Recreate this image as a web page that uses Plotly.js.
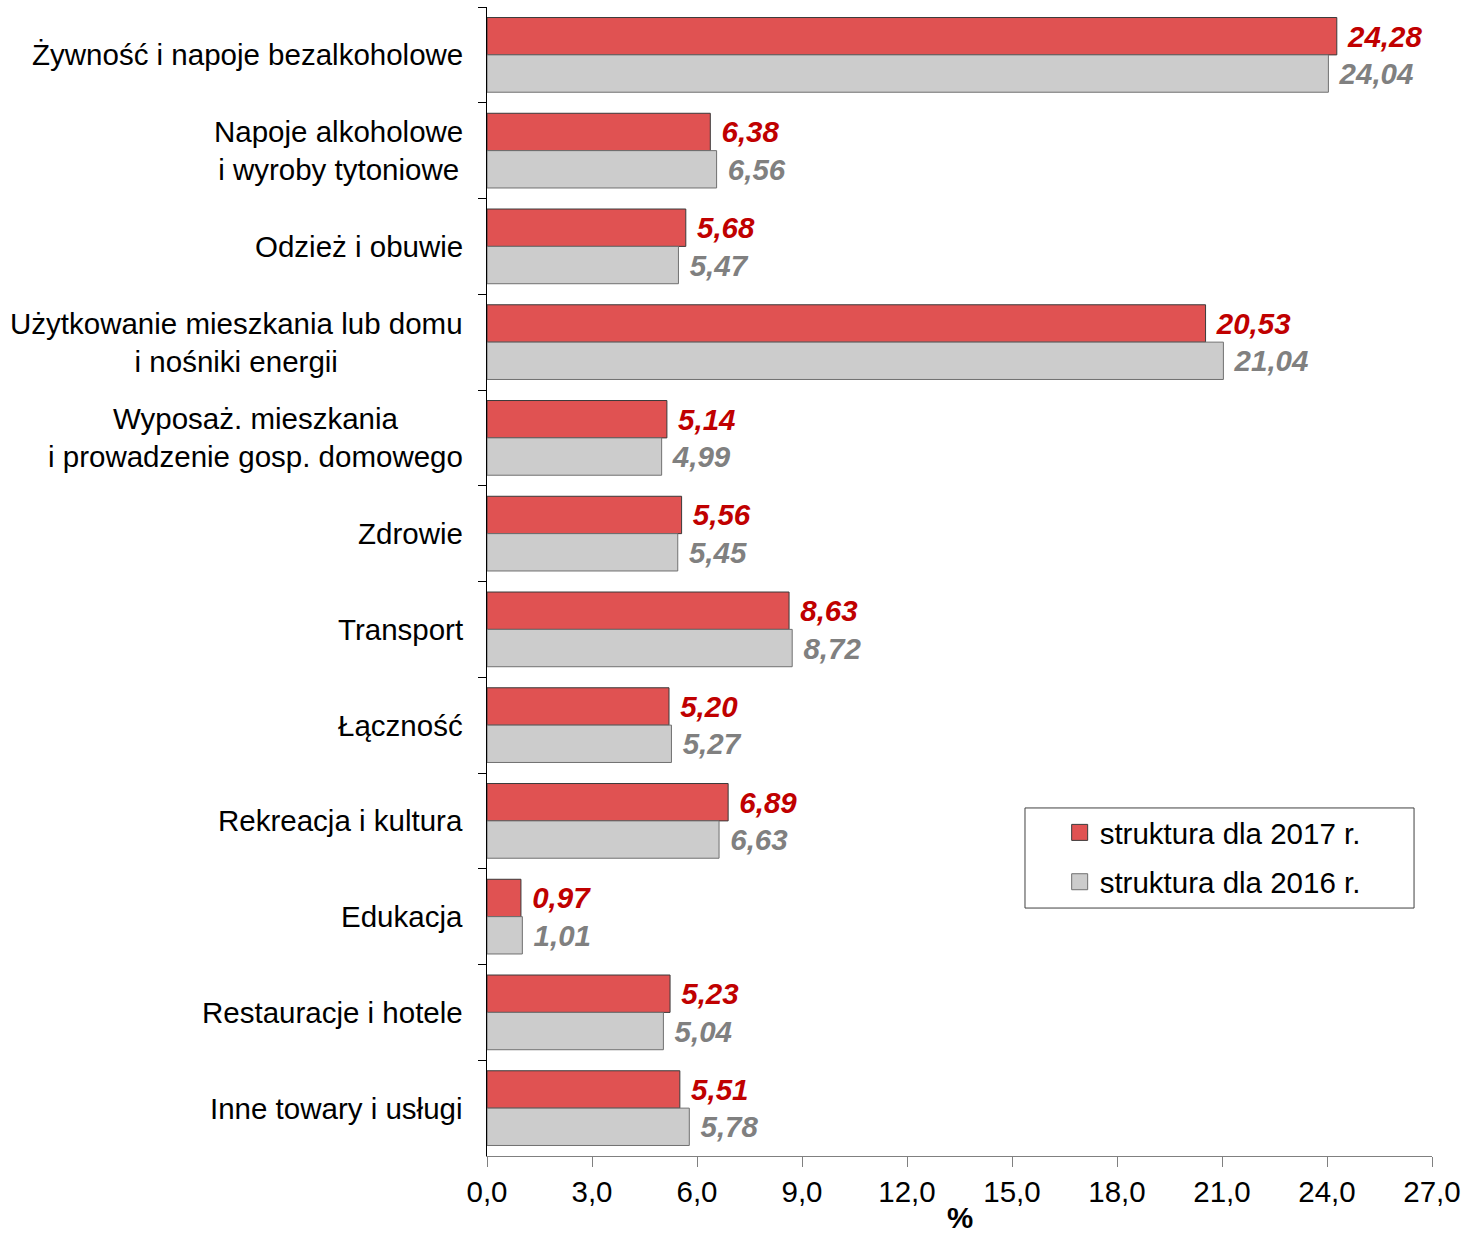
<!DOCTYPE html>
<html>
<head>
<meta charset="utf-8">
<script src="https://cdn.plot.ly/plotly-3.0.1.min.js"></script>
<style>html,body{margin:0;padding:0;background:#fff}#chart{width:1470px;height:1233px}</style>
</head>
<body>
<div id="chart"></div>
<script>
const categories = [
  "Żywność i napoje bezalkoholowe",
  "Napoje alkoholowe<br>i wyroby tytoniowe",
  "Odzież i obuwie",
  "Użytkowanie mieszkania lub domu<br>i nośniki energii",
  "Wyposaż. mieszkania<br>i prowadzenie gosp. domowego",
  "Zdrowie",
  "Transport",
  "Łączność",
  "Rekreacja i kultura",
  "Edukacja",
  "Restauracje i hotele",
  "Inne towary i usługi"
];
const values2017 = [24.28, 6.38, 5.68, 20.53, 5.14, 5.56, 8.63, 5.20, 6.89, 0.97, 5.23, 5.51];
const values2016 = [24.04, 6.56, 5.47, 21.04, 4.99, 5.45, 8.72, 5.27, 6.63, 1.01, 5.04, 5.78];
const seriesNames = ["struktura dla 2017 r.", "struktura dla 2016 r."];
const xTicks = [0, 3, 6, 9, 12, 15, 18, 21, 24, 27];
const xAxisTitle = "%";

const FONT = "Liberation Sans, Arial, sans-serif";
const FS = 29.5;
const fmt = v => '\u00A0' + v.toFixed(2).replace('.', ',');

const colors = {red: '#E05252', redLine: '#3a3a3a', grey: '#CCCCCC', greyLine: '#707070'};

const traces = [
  {
    type: 'bar', orientation: 'h', name: seriesNames[0], showlegend: false,
    y: categories, x: values2017,
    marker: {color: colors.red, line: {color: colors.redLine, width: 1}},
    text: values2017.map(fmt), textposition: 'outside', cliponaxis: false,
    textfont: {family: FONT, size: FS, color: '#C00000', weight: 'bold', style: 'italic'},
    hoverinfo: 'x'
  },
  {
    type: 'bar', orientation: 'h', name: seriesNames[1], showlegend: false,
    y: categories, x: values2016,
    marker: {color: colors.grey, line: {color: colors.greyLine, width: 1}},
    text: values2016.map(fmt), textposition: 'outside', cliponaxis: false,
    textfont: {family: FONT, size: FS, color: '#808080', weight: 'bold', style: 'italic'},
    hoverinfo: 'x'
  },
  {
    type: 'scatter', mode: 'markers', name: seriesNames[0], legendgroup: 'g1', x: [null], y: [null],
    marker: {symbol: 'square', size: 16, color: colors.red, line: {color: colors.redLine, width: 1}},
    showlegend: true, hoverinfo: 'skip'
  },
  {
    type: 'scatter', mode: 'markers', name: seriesNames[1], legendgroup: 'g2', x: [null], y: [null],
    marker: {symbol: 'square', size: 16, color: colors.grey, line: {color: colors.greyLine, width: 1}},
    showlegend: true, hoverinfo: 'skip'
  }
];

const annotations = categories.map(c => ({
  xref: 'paper', yref: 'y', x: 0, y: c, xanchor: 'right', yanchor: 'middle',
  xshift: -22, text: c, showarrow: false, align: 'center',
  font: {family: FONT, size: FS, color: '#000'}
}));
annotations.push({
  xref: 'paper', yref: 'paper', x: 0.5, y: 0, xanchor: 'center', yanchor: 'middle',
  yshift: -61, borderpad: 0, text: '<b>' + xAxisTitle + '</b>', showarrow: false,
  font: {family: FONT, size: FS, color: '#000'}
});

const layout = {
  width: 1470, height: 1233,
  margin: {l: 487, r: 38, t: 7, b: 77},
  paper_bgcolor: '#fff', plot_bgcolor: '#fff',
  separators: ',.',
  font: {family: FONT, size: FS, color: '#000'},
  barmode: 'group', bargap: 0.22, bargroupgap: 0,
  showlegend: true,
  legend: {
    x: 0.606, y: 0.304, xanchor: 'left', yanchor: 'top',
    bgcolor: 'rgba(0,0,0,0)', borderwidth: 0,
    font: {family: FONT, size: FS, color: '#000'},
    traceorder: 'grouped', itemsizing: 'trace', tracegroupgap: 8
  },
  shapes: [{
    type: 'rect', xref: 'paper', yref: 'paper',
    x0: 0.5693, x1: 0.981, y0: 0.2158, y1: 0.3029,
    line: {color: '#404040', width: 1}, fillcolor: '#fff', layer: 'below'
  }],
  xaxis: {
    range: [0, 27], tickvals: xTicks, tickformat: '.1f',
    showgrid: false, zeroline: false,
    showline: true, linecolor: '#808080', linewidth: 1,
    ticks: 'outside', ticklen: 10, tickcolor: '#808080',
    tickfont: {family: FONT, size: FS, color: '#000'}
  },
  yaxis: {
    type: 'category', autorange: 'reversed',
    showticklabels: false,
    showgrid: false, zeroline: false,
    showline: true, linecolor: '#000', linewidth: 1,
    ticks: 'outside', ticklen: 8, tickcolor: '#000', tickson: 'boundaries'
  },
  annotations: annotations
};

Plotly.newPlot('chart', traces, layout, {displayModeBar: false, staticPlot: true});
</script>
</body>
</html>
